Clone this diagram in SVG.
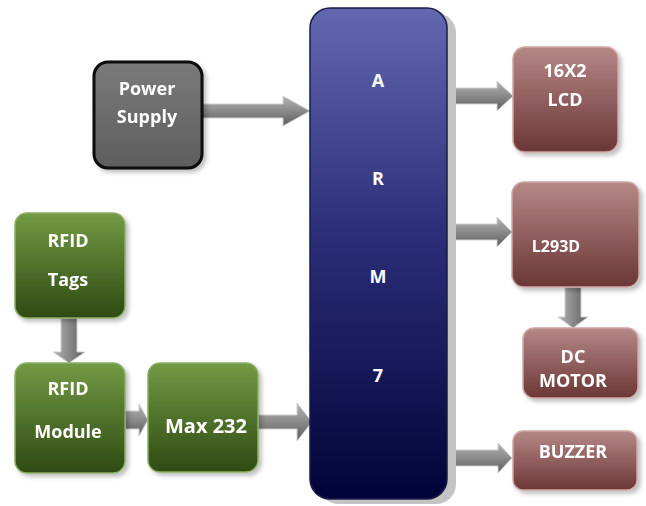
<svg xmlns="http://www.w3.org/2000/svg" width="646" height="506" viewBox="0 0 646 506">
<defs>
<linearGradient id="gArm" x1="0" y1="0" x2="0" y2="1">
<stop offset="0" stop-color="#6368b0"/><stop offset="0.45" stop-color="#2c2f79"/><stop offset="1" stop-color="#020338"/>
</linearGradient>
<linearGradient id="gGreen" x1="0" y1="0" x2="0" y2="1">
<stop offset="0" stop-color="#729a44"/><stop offset="1" stop-color="#2f4a14"/>
</linearGradient>
<linearGradient id="gRed" x1="0" y1="0" x2="0" y2="1">
<stop offset="0" stop-color="#b58886"/><stop offset="1" stop-color="#6b3636"/>
</linearGradient>
<linearGradient id="gGray" x1="0" y1="0" x2="0" y2="1">
<stop offset="0" stop-color="#7a7a7a"/><stop offset="1" stop-color="#5e5e5e"/>
</linearGradient>
<linearGradient id="gArrH" x1="0" y1="0" x2="0" y2="1">
<stop offset="0" stop-color="#b4b4b4"/><stop offset="0.5" stop-color="#8a8a8a"/><stop offset="1" stop-color="#5c5c5c"/>
</linearGradient>
<linearGradient id="gArrV" x1="0" y1="0" x2="1" y2="0">
<stop offset="0" stop-color="#b4b4b4"/><stop offset="0.5" stop-color="#8a8a8a"/><stop offset="1" stop-color="#5c5c5c"/>
</linearGradient>
<filter id="sh" x="-20%" y="-20%" width="140%" height="140%">
<feDropShadow dx="3" dy="3" stdDeviation="2" flood-color="#000" flood-opacity="0.25"/>
</filter>
</defs>
<style>
text{font-family:"Open Sans","Liberation Sans",sans-serif;font-weight:700;fill:#ffffff;text-anchor:middle;font-size:18px}
.arr{stroke:#d0d0d0;stroke-width:1;stroke-linejoin:miter}
.h{fill:url(#gArrH)}
.v{fill:url(#gArrV)}
.green{fill:url(#gGreen);stroke:#8cae62;stroke-width:1.5}
.red{fill:url(#gRed);stroke:#cfa7a6;stroke-width:1.5}
</style>

<g id="connectors">
<path class="arr h" d="M202,104 H283 V96 L310,111 L283,126 V118 H202 Z"/>
<path class="arr h" d="M258,415 H297 V403 L312,422 L297,441 V429 H258 Z"/>
<path class="arr h" d="M125,411 H139 V404 L148,420 L139,436 V429 H125 Z"/>
<path class="arr h" d="M447,88 H497 V81 L513,96 L497,111 V104 H447 Z"/>
<path class="arr h" d="M447,224 H497 V217 L512,232 L497,247 V240 H447 Z"/>
<path class="arr h" d="M447,450 H498 V443 L512,458 L498,473 V466 H447 Z"/>
<path class="arr v" d="M61,318 V352 H53 L69,363 L85,352 H77 V318 Z"/>
<path class="arr v" d="M565,287 V317 H558 L573,328 L588,317 H581 V287 Z"/>
</g>

<g id="arm">
<rect x="319" y="13" width="137" height="491" rx="20" fill="#c4c4c4"/>
<rect x="310" y="8" width="137" height="491" rx="20" fill="url(#gArm)" stroke="#1a1c4a" stroke-width="1.5"/>
<text x="378" y="87">A</text>
<text x="378" y="185">R</text>
<text x="378" y="283">M</text>
<text x="378" y="382">7</text>
</g>

<g id="power-supply" filter="url(#sh)">
<rect x="94" y="62" width="108" height="106" rx="14" fill="url(#gGray)" stroke="#0a0a0a" stroke-width="3"/>
<text x="147" y="95">Power</text>
<text x="147" y="123">Supply</text>
</g>

<g id="rfid-tags" filter="url(#sh)">
<rect x="15" y="213" width="110" height="105" rx="12" class="green"/>
<text x="68" y="247">RFID</text>
<text x="68" y="286">Tags</text>
</g>

<g id="rfid-module" filter="url(#sh)">
<rect x="15" y="363" width="110" height="110" rx="12" class="green"/>
<text x="68" y="395">RFID</text>
<text x="68" y="438">Module</text>
</g>

<g id="max232" filter="url(#sh)">
<rect x="148" y="363" width="110" height="109" rx="12" class="green"/>
<text x="206" y="433" style="font-size:20px">Max 232</text>
</g>

<g id="lcd" filter="url(#sh)">
<rect x="513" y="47" width="105" height="105" rx="12" class="red"/>
<text x="565" y="77">16X2</text>
<text x="565" y="106">LCD</text>
</g>

<g id="l293d" filter="url(#sh)">
<rect x="512" y="182" width="127" height="105" rx="12" class="red"/>
<text x="556" y="252" style="font-size:16px">L293D</text>
</g>

<g id="dc-motor" filter="url(#sh)">
<rect x="523" y="328" width="115" height="70" rx="11" class="red"/>
<text x="573" y="363">DC</text>
<text x="573" y="387">MOTOR</text>
</g>

<g id="buzzer" filter="url(#sh)">
<rect x="513" y="431" width="124" height="59" rx="10" class="red"/>
<text x="573" y="458">BUZZER</text>
</g>
</svg>
